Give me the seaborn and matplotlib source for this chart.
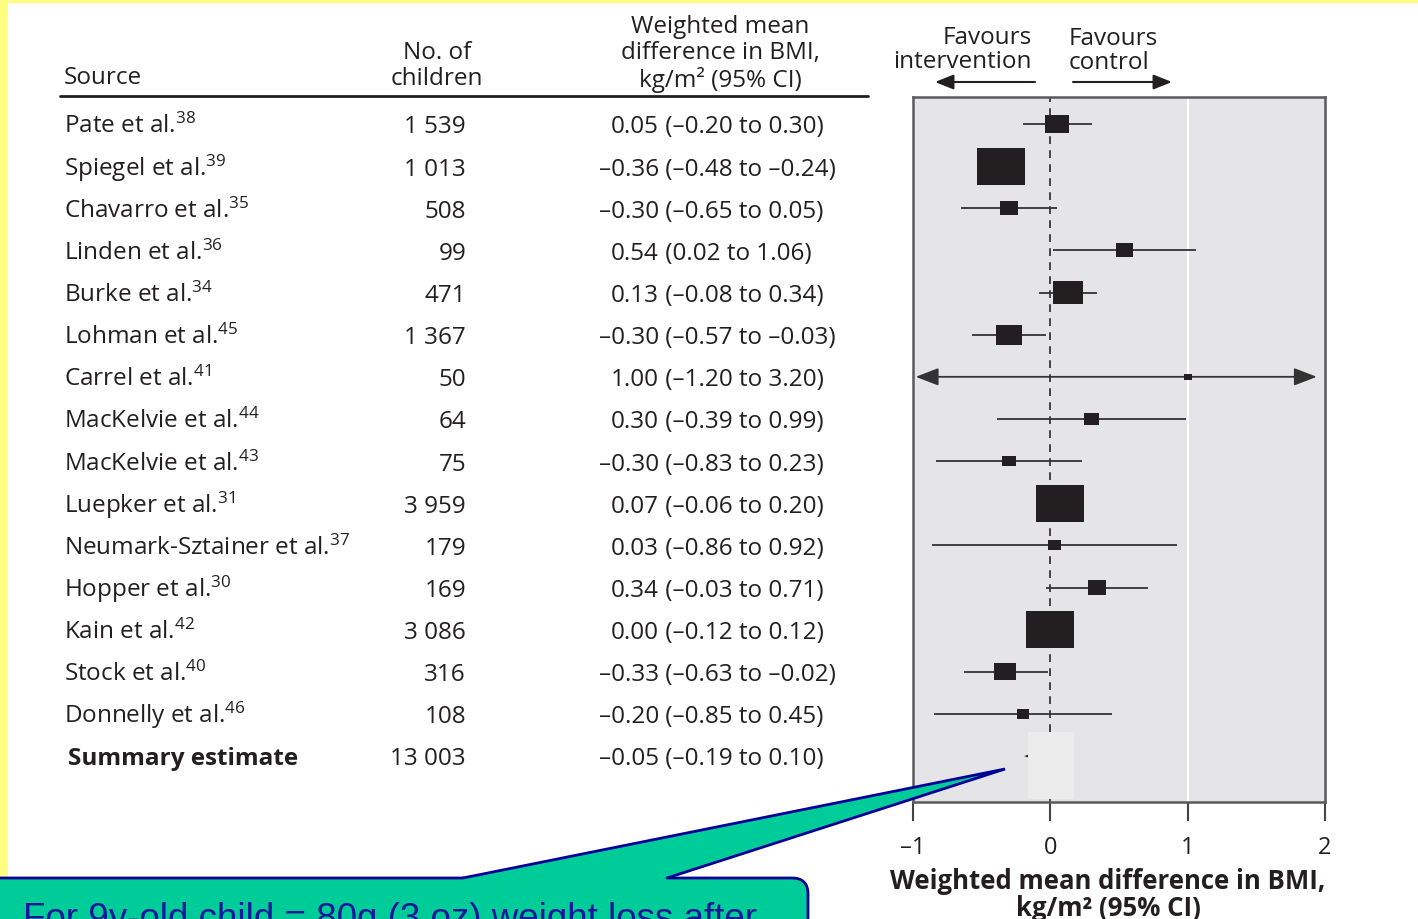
import numpy as np
import pandas as pd
import seaborn as sns
import matplotlib
matplotlib.use("Agg")
import matplotlib.pyplot as plt
import matplotlib.transforms as mtransforms
from matplotlib.patches import Polygon, Rectangle, FancyBboxPatch, FancyArrowPatch
from matplotlib.lines import Line2D

# ---------------- data ----------------
sources = ["Pate et al.", "Spiegel et al.", "Chavarro et al.", "Linden et al.",
           "Burke et al.", "Lohman et al.", "Carrel et al.", "MacKelvie et al.",
           "MacKelvie et al.", "Luepker et al.", "Neumark-Sztainer et al.",
           "Hopper et al.", "Kain et al.", "Stock et al.", "Donnelly et al."]
refs = [38, 39, 35, 36, 34, 45, 41, 44, 43, 31, 37, 30, 42, 40, 46]
children = [1539, 1013, 508, 99, 471, 1367, 50, 64, 75, 3959, 179, 169, 3086, 316, 108]
wmd = [0.05, -0.36, -0.30, 0.54, 0.13, -0.30, 1.00, 0.30, -0.30, 0.07, 0.03, 0.34,
       0.00, -0.33, -0.20]
ci_low = [-0.20, -0.48, -0.65, 0.02, -0.08, -0.57, -1.20, -0.39, -0.83, -0.06, -0.86,
          -0.03, -0.12, -0.63, -0.85]
ci_high = [0.30, -0.24, 0.05, 1.06, 0.34, -0.03, 3.20, 0.99, 0.23, 0.20, 0.92, 0.71,
           0.12, -0.02, 0.45]
# study weights (%), shown as square area
weights = [5.1, 20.4, 2.9, 2.9, 8.0, 6.0, 0.6, 2.0, 1.7, 20.4, 1.5, 2.9, 20.4, 4.3, 1.3]

summary_label = "Summary estimate"
summary_n = 13003
summary_wmd = -0.05
summary_low = -0.19
summary_high = 0.10

x_ticks = [-1, 0, 1, 2]
x_tick_labels = ["\u20131", "0", "1", "2"]

callout_text = "For 9y-old child = 80g (3 oz) weight loss after"

# ---------------- style ----------------
sns.set_theme(style="white")
plt.rcParams["font.family"] = ["Open Sans", "DejaVu Sans"]
plt.rcParams["mathtext.default"] = "regular"

INK = "#231f20"
FS = 17.5
W, H = 1418, 920


def fx(px):
    return px / W


def fy(py):
    return 1 - py / H


def fmt(v):
    return f"{v:.2f}".replace("-", "\u2013")


def fmt_n(n):
    return f"{n:,}".replace(",", " ")


fig = plt.figure(figsize=(W / 100, H / 100), dpi=100)
fig.patch.set_facecolor("white")

ax = fig.add_axes([fx(913), fy(803), (1325 - 913) / W, (803 - 98) / H])
ax.set_facecolor("#e5e5e7")

df = pd.DataFrame({"row": np.arange(len(sources)), "wmd": wmd, "lo": ci_low,
                   "hi": ci_high, "weight": weights})
summary_row = len(sources)

xmin, xmax = x_ticks[0], x_ticks[-1]
ax.set_xlim(xmin, xmax)
ax.set_ylim(summary_row + 1.09, -0.64)

# reference lines
ax.axvline(1, color="white", lw=1.6, zorder=0.5)
ax.axvline(0, color="#444444", lw=1.4, ls=(0, (4, 3.2)), zorder=1)

# confidence intervals; ones running past the scale end in arrowheads
inside = (df.lo >= xmin) & (df.hi <= xmax)
ax.hlines(df.row[inside], df.lo[inside], df.hi[inside], color="#333333", lw=1.3, zorder=2)
for _, r in df[~inside].iterrows():
    a = max(r.lo, xmin + 0.02)
    b = min(r.hi, xmax - 0.06)
    ax.add_patch(FancyArrowPatch((a, r.row), (b, r.row),
                                 arrowstyle="<|-|>,head_length=0.7,head_width=0.27",
                                 mutation_scale=20, color="#333333", lw=1.3,
                                 shrinkA=0, shrinkB=0, zorder=2))

# study squares (slightly flattened boxes), area proportional to weight
side = 7.6
box = [(-1, -0.78), (1, -0.78), (1, 0.78), (-1, 0.78), (-1, -0.78)]
sns.scatterplot(data=df, x="wmd", y="row", size="weight",
                sizes=(side ** 2 * min(weights), side ** 2 * max(weights)),
                marker=box, color=INK, linewidth=0, legend=False, ax=ax, zorder=3)

# summary diamond, partly covered by a pale label box
h = 0.17
ax.add_patch(Polygon([(summary_low, summary_row), (summary_wmd, summary_row - h),
                      (summary_high, summary_row), (summary_wmd, summary_row + h)],
                     closed=True, color=INK, lw=0, zorder=3))
ax.add_patch(Rectangle((-0.16, summary_row - 0.57), 0.335, 1.59,
                       color="#ececec", lw=0, zorder=4))

for s in ax.spines.values():
    s.set_visible(True)
    s.set_color("#5a5a5a")
    s.set_linewidth(1.8)
ax.set_yticks([])
ax.set_xticks(x_ticks)
ax.set_xticklabels(x_tick_labels)
ax.tick_params(axis="x", bottom=True, direction="out", length=14, width=1.5,
               color="#444444", pad=10, labelsize=17, labelcolor=INK)
ax.set_xlabel("")
ax.set_ylabel("")

# ---------------- table ----------------
trans = mtransforms.blended_transform_factory(fig.transFigure, ax.transData)
base = 0.2
x_est = 659
for i, (src, ref, n, e, lo, hi) in enumerate(zip(sources, refs, children, wmd, ci_low, ci_high)):
    y = i + base
    fig.text(fx(64), y, f"{src}$^{{{ref}}}$", transform=trans, ha="left",
             va="baseline", fontsize=FS, color=INK)
    fig.text(fx(466), y, fmt_n(n), transform=trans, ha="right", va="baseline",
             fontsize=FS, color=INK)
    fig.text(fx(x_est), y, fmt(e), transform=trans, ha="right", va="baseline",
             fontsize=FS, color=INK)
    fig.text(fx(x_est), y, f" ({fmt(lo)} to {fmt(hi)})", transform=trans, ha="left",
             va="baseline", fontsize=FS, color=INK)

y = summary_row + base
fig.text(fx(68), y, summary_label, transform=trans, ha="left", va="baseline",
         fontsize=FS, color=INK, fontweight="bold")
fig.text(fx(466), y, fmt_n(summary_n), transform=trans, ha="right", va="baseline",
         fontsize=FS, color=INK)
fig.text(fx(x_est), y, fmt(summary_wmd), transform=trans, ha="right", va="baseline",
         fontsize=FS, color=INK)
fig.text(fx(x_est), y, f" ({fmt(summary_low)} to {fmt(summary_high)})", transform=trans,
         ha="left", va="baseline", fontsize=FS, color=INK)

# ---------------- overlay in pixel space ----------------
ov = fig.add_axes([0, 0, 1, 1], zorder=10)
ov.set_xlim(0, W)
ov.set_ylim(H, 0)
ov.axis("off")
ov.patch.set_alpha(0)

# slide border
ov.add_patch(Rectangle((0, 0), W, 4, color="#ffff80", lw=0, zorder=1))
ov.add_patch(Rectangle((0, 0), 8, H, color="#ffff80", lw=0, zorder=1))

# column headers
ov.text(64, 78, "Source", ha="left", va="center", fontsize=FS, color=INK)
ov.text(437, 66, "No. of\nchildren", ha="center", va="center", fontsize=FS,
        color=INK, linespacing=1.1, multialignment="center")
ov.text(720, 54, "Weighted mean\ndifference in BMI,\nkg/m\u00b2 (95% CI)", ha="center",
        va="center", fontsize=FS, color=INK, linespacing=1.1, multialignment="center")
ov.add_line(Line2D([60, 868], [97, 97], color=INK, lw=2))

ov.text(1032, 50, "Favours\nintervention", ha="right", va="center", fontsize=FS,
        color=INK, linespacing=1.05, multialignment="right")
ov.text(1069, 51, "Favours\ncontrol", ha="left", va="center", fontsize=FS,
        color=INK, linespacing=1.05, multialignment="left")
for (a, b) in [((1035, 83), (935, 83)), ((1073, 83), (1172, 83))]:
    ov.add_patch(FancyArrowPatch(a, b, arrowstyle="-|>,head_length=0.75,head_width=0.3",
                                 mutation_scale=15, color=INK, lw=1.5,
                                 shrinkA=0, shrinkB=0))

ov.text(1108, 895, "Weighted mean difference in BMI,\nkg/m\u00b2 (95% CI)", ha="center",
        va="center", fontsize=18.5, color=INK, fontweight="bold", linespacing=1.02,
        multialignment="center")

# callout
GREEN = "#00cc99"
NAVY = "#000099"
ov.add_patch(FancyBboxPatch((-30, 879), 838, 120, boxstyle="round,pad=0,rounding_size=16",
                            facecolor=GREEN, edgecolor=NAVY, lw=2, zorder=5))
ov.add_patch(Polygon([(463, 879), (1005, 770), (667, 879), (668, 882), (462, 882)],
                     closed=True, facecolor=GREEN, edgecolor="none", zorder=6))
ov.add_line(Line2D([463, 1005, 667], [879, 770, 879], color=NAVY, lw=2, zorder=7,
                   solid_joinstyle="miter"))
ov.text(23, 929, callout_text, ha="left", va="baseline", fontsize=26.5,
        family=["Liberation Sans", "DejaVu Sans"], color="#16169a", zorder=8)

fig.savefig("out.png", dpi=100)
